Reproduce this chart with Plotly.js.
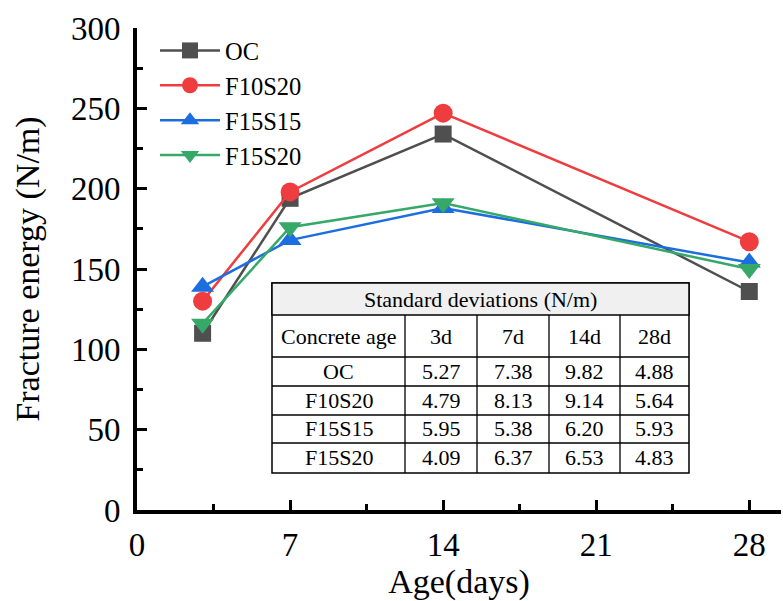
<!DOCTYPE html>
<html>
<head>
<meta charset="utf-8">
<script src="https://cdn.plot.ly/plotly-3.0.1.min.js"></script>
<style>html,body{margin:0;padding:0;background:#fff;}#chart{width:783px;height:601px;}</style>
</head>
<body>
<div id="chart"></div>
<script>
// ---- data ----
const days = [3, 7, 14, 28];
const seriesNames = ['OC', 'F10S20', 'F15S15', 'F15S20'];
const valOC = [110, 194, 234, 136];
const valF10S20 = [130, 198, 247, 167];
const valF15S15 = [139, 168, 188, 154];
const valF15S20 = [116, 176, 191, 150];
const xTicks = [0, 7, 14, 21, 28];
const yTicks = [0, 50, 100, 150, 200, 250, 300];
const tableTitle = 'Standard deviations (N/m)';
const tableHeadLabel = 'Concrete age';
const tableCols = ['3d', '7d', '14d', '28d'];
const sdOC = ['5.27', '7.38', '9.82', '4.88'];
const sdF10S20 = ['4.79', '8.13', '9.14', '5.64'];
const sdF15S15 = ['5.95', '5.38', '6.20', '5.93'];
const sdF15S20 = ['4.09', '6.37', '6.53', '4.83'];

// ---- styles ----
const colors = ['#4f4f4f', '#ef3d3f', '#1c6ee0', '#36a868'];
const symbols = ['square', 'circle', 'triangle-up', 'triangle-down'];
const sizes = [17, 19, 20, 20];
const vals = [valOC, valF10S20, valF15S15, valF15S20];
const sds = [sdOC, sdF10S20, sdF15S15, sdF15S20];
const FONT = "'Liberation Serif', 'Times New Roman', serif";

const traces = seriesNames.map((n, i) => ({
  type: 'scatter', mode: 'lines+markers', name: n, x: days, y: vals[i],
  line: {color: colors[i], width: 2.5},
  marker: {symbol: symbols[i], size: sizes[i], color: colors[i], line: {width: 0}},
  cliponaxis: false
}));

// plot area pixel geometry
const L = 137, T = 28, R = 2, B = 91, W = 783, H = 601;
const pw = W - L - R, ph = H - T - B;
const px = x => (x - L) / pw;
const py = y => (H - B - y) / ph;

// table geometry (pixels)
const colX = [272, 405, 477, 549, 620, 689];
const rowY = [283, 315, 357, 386, 415, 443, 473];
const shapes = [];
const annotations = [];
shapes.push({type: 'rect', xref: 'paper', yref: 'paper', x0: px(colX[0]), x1: px(colX[5]), y0: py(rowY[0]), y1: py(rowY[6]), fillcolor: '#ffffff', line: {color: '#000', width: 1.5}, layer: 'below'});
shapes.push({type: 'rect', xref: 'paper', yref: 'paper', x0: px(colX[0]), x1: px(colX[5]), y0: py(rowY[0]), y1: py(rowY[1]), fillcolor: '#f0f0f0', line: {color: '#000', width: 1.5}, layer: 'below'});
for (let r = 2; r < rowY.length - 1; r++) {
  shapes.push({type: 'line', xref: 'paper', yref: 'paper', x0: px(colX[0]), x1: px(colX[5]), y0: py(rowY[r]), y1: py(rowY[r]), line: {color: '#000', width: 1.3}});
}
for (let c = 1; c < colX.length - 1; c++) {
  shapes.push({type: 'line', xref: 'paper', yref: 'paper', x0: px(colX[c]), x1: px(colX[c]), y0: py(rowY[1]), y1: py(rowY[6]), line: {color: '#000', width: 1.3}});
}
const cell = (text, c0, c1, r0, r1) => annotations.push({
  xref: 'paper', yref: 'paper', x: px((colX[c0] + colX[c1]) / 2), y: py((rowY[r0] + rowY[r1]) / 2),
  text: text, showarrow: false, xanchor: 'center', yanchor: 'middle',
  font: {family: FONT, size: 22, color: '#000'}
});
cell(tableTitle, 0, 5, 0, 1);
cell(tableHeadLabel, 0, 1, 1, 2);
tableCols.forEach((t, j) => cell(t, j + 1, j + 2, 1, 2));
seriesNames.forEach((n, i) => {
  cell(n, 0, 1, i + 2, i + 3);
  sds[i].forEach((v, j) => cell(v, j + 1, j + 2, i + 2, i + 3));
});

const axisCommon = {
  showgrid: false, zeroline: false, showline: true, linecolor: '#000', linewidth: 4,
  ticks: 'inside', ticklen: 10, tickwidth: 3, tickcolor: '#000',
  tickfont: {family: FONT, size: 33, color: '#000'}, mirror: false
};

const layout = {
  width: W, height: H,
  font: {family: FONT},
  margin: {l: L, r: R, t: T, b: B, pad: 0},
  paper_bgcolor: '#fff', plot_bgcolor: '#fff',
  showlegend: true,
  legend: {x: px(155), y: py(28), xanchor: 'left', yanchor: 'top', bgcolor: 'rgba(0,0,0,0)', borderwidth: 0,
    font: {family: FONT, size: 24.5, color: '#000'}, itemwidth: 60, tracegroupgap: 0},
  xaxis: Object.assign({}, axisCommon, {
    range: [0, 29.45], tickmode: 'array', tickvals: xTicks, ticktext: xTicks.map(String),
    minor: {ticks: 'inside', ticklen: 6, tickwidth: 3, tickcolor: '#000', dtick: 3.5, tick0: 0},
    ticklabelstandoff: 2,
    title: {text: 'Age(days)', font: {family: FONT, size: 34, color: '#000'}, standoff: 4}
  }),
  yaxis: Object.assign({}, axisCommon, {
    range: [0, 300], tickmode: 'array', tickvals: yTicks, ticktext: yTicks.map(String),
    minor: {ticks: 'inside', ticklen: 6, tickwidth: 3, tickcolor: '#000', dtick: 25, tick0: 0},
    ticklabelstandoff: 6,
    title: {text: 'Fracture energy (N/m)', font: {family: FONT, size: 34, color: '#000'}, standoff: 22}
  }),
  shapes: shapes,
  annotations: annotations
};

Plotly.newPlot('chart', traces, layout, {displayModeBar: false, staticPlot: true});
</script>
</body>
</html>
